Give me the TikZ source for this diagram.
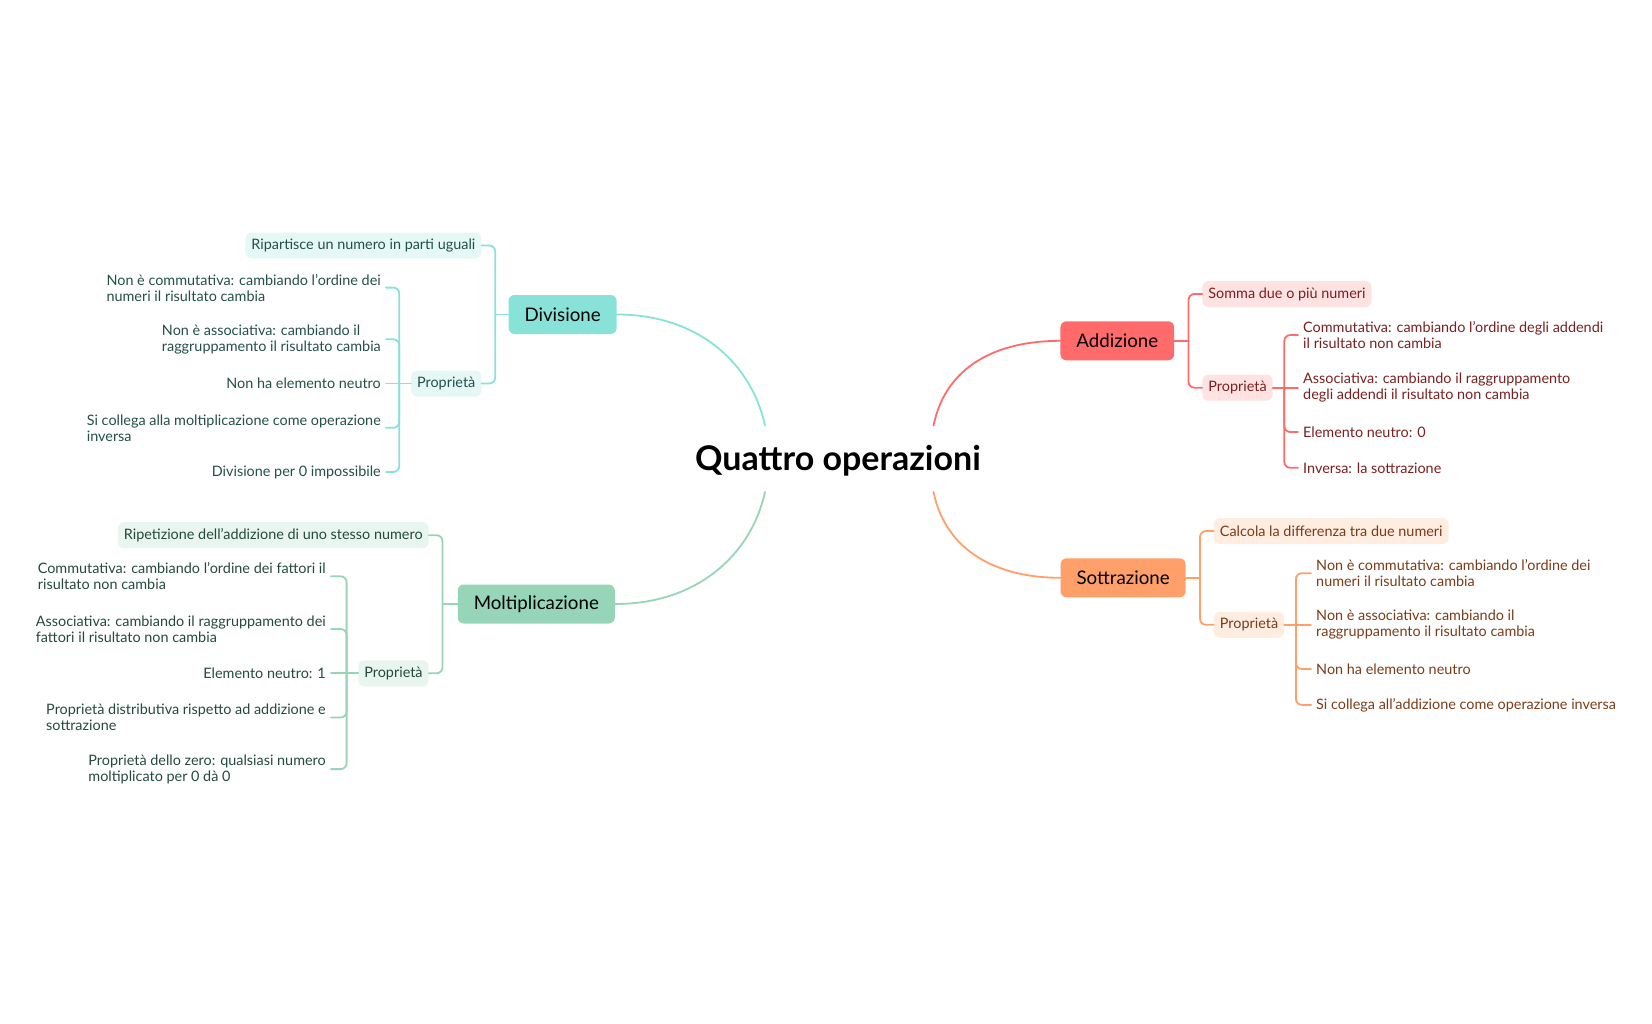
\documentclass[tikz,border=0pt]{standalone}
\usepackage{fontspec}
\setmainfont{Lato}
\usepackage{xcolor}
\definecolor{divc}{HTML}{88E2D8}
\definecolor{divl}{HTML}{E5F8F5}
\definecolor{divt}{HTML}{234F48}
\definecolor{molc}{HTML}{96D5B7}
\definecolor{moll}{HTML}{E8F6EF}
\definecolor{molt}{HTML}{24493A}
\definecolor{addc}{HTML}{FF6B6B}
\definecolor{addl}{HTML}{FFE2E2}
\definecolor{addt}{HTML}{7A1F1F}
\definecolor{sotc}{HTML}{FFA06A}
\definecolor{sotl}{HTML}{FFEDE2}
\definecolor{sott}{HTML}{7A3B17}
\tikzset{
  every picture/.style={line join=round, line cap=round},
  topic/.style={rounded corners=6pt, minimum height=39pt, inner xsep=16pt, font=\fontsize{18.7}{20}\selectfont, text=black},
  sub/.style={rounded corners=6pt, minimum height=26pt, inner xsep=6pt, font=\fontsize{14.4}{16}\selectfont},
  leaf/.style={align=left, inner xsep=5pt, inner ysep=2pt, font=\fontsize{14.4}{16}\selectfont},
  link/.style={line width=1.8pt},
  fork/.style={line width=1.8pt, rounded corners=6pt},
}

\begin{document}
\begin{tikzpicture}[x=1pt,y=-1pt]
\useasboundingbox (0,0) rectangle (1652,1023);
\node[font=\fontsize{34}{36}\selectfont\bfseries] (root) at (838,461) {Quattro operazioni};
\coordinate (rDiv) at (765,425.6);
\coordinate (rAdd) at (933.5,425.6);
\coordinate (rSot) at (933.5,492);
\coordinate (rMol) at (765,492);

\node[topic,fill=divc] (div) at (562.6,314.5) {Divisione};
\node[sub,fill=divl,text=divt,anchor=east] (divA) at (481.5,245.5) {Ripartisce un numero in parti uguali};
\node[sub,fill=divl,text=divt,anchor=east] (divP) at (481.5,383.5) {Proprietà};
\node[leaf,text=divt,anchor=east] (div1) at (386,287.6) {Non è commutativa: cambiando l’ordine dei\\numeri il risultato cambia};
\node[leaf,text=divt,anchor=east] (div2) at (386,339.3) {Non è associativa: cambiando il\\raggruppamento il risultato cambia};
\node[leaf,text=divt,anchor=east] (div3) at (386,383.5) {Non ha elemento neutro};
\node[leaf,text=divt,anchor=east] (div4) at (386,427.8) {Si collega alla moltiplicazione come operazione\\inversa};
\node[leaf,text=divt,anchor=east] (div5) at (386,472) {Divisione per 0 impossibile};
\draw[link,divc] (rDiv) .. controls (752,365) and (700,314.5) .. (div.east);
\draw[link,divc] (div.west) -- (495.2,314.5) coordinate (divJ);
\draw[fork,divc] (divA.east) -| (divJ) |- (divP.east);
\coordinate (divK) at (399.3,383.5);
\draw[link,divc] (divP.west) -- (div3.east);
\draw[fork,divc] (div1.east) -| (divK) |- (div5.east);
\draw[fork,divc] (div2.east) -| (divK);
\draw[fork,divc] (div4.east) -| (divK);

\node[topic,fill=molc] (mol) at (536.3,604) {Moltiplicazione};
\node[sub,fill=moll,text=molt,anchor=east] (molA) at (428.8,535.2) {Ripetizione dell’addizione di uno stesso numero};
\node[sub,fill=moll,text=molt,anchor=east] (molP) at (428.8,673.3) {Proprietà};
\node[leaf,text=molt,anchor=east] (mol1) at (331,576.3) {Commutativa: cambiando l’ordine dei fattori il\\risultato non cambia};
\node[leaf,text=molt,anchor=east] (mol2) at (331,629) {Associativa: cambiando il raggruppamento dei\\fattori il risultato non cambia};
\node[leaf,text=molt,anchor=east] (mol3) at (331,673.3) {Elemento neutro: 1};
\node[leaf,text=molt,anchor=east] (mol4) at (331,717.5) {Proprietà distributiva rispetto ad addizione e\\sottrazione};
\node[leaf,text=molt,anchor=east] (mol5) at (331,769.1) {Proprietà dello zero: qualsiasi numero\\moltiplicato per 0 dà 0};
\draw[link,molc] (rMol) .. controls (752,552) and (700,604) .. (mol.east);
\draw[link,molc] (mol.west) -- (442.5,604) coordinate (molJ);
\draw[fork,molc] (molA.east) -| (molJ) |- (molP.east);
\coordinate (molK) at (346.6,673.3);
\draw[link,molc] (molP.west) -- (mol3.east);
\draw[fork,molc] (mol1.east) -| (molK) |- (mol5.east);
\draw[fork,molc] (mol2.east) -| (molK);
\draw[fork,molc] (mol4.east) -| (molK);

\node[topic,fill=addc] (add) at (1117.3,340.8) {Addizione};
\node[sub,fill=addl,text=addt,anchor=west] (addA) at (1202.2,294) {Somma due o più numeri};
\node[sub,fill=addl,text=addt,anchor=west] (addP) at (1202.2,387.7) {Proprietà};
\node[leaf,text=addt,anchor=west] (add1) at (1298,335) {Commutativa: cambiando l’ordine degli addendi\\il risultato non cambia};
\node[leaf,text=addt,anchor=west] (add2) at (1298,387.7) {Associativa: cambiando il raggruppamento\\degli addendi il risultato non cambia};
\node[leaf,text=addt,anchor=west] (add3) at (1298,432) {Elemento neutro: 0};
\node[leaf,text=addt,anchor=west] (add4) at (1298,467.8) {Inversa: la sottrazione};
\draw[link,addc] (rAdd) .. controls (946,365) and (998,340.8) .. (add.west);
\draw[link,addc] (add.east) -- (1188.5,340.8) coordinate (addJ);
\draw[fork,addc] (addA.west) -| (addJ) |- (addP.west);
\coordinate (addK) at (1284.3,387.7);
\draw[link,addc] (addP.east) -- (add2.west);
\draw[fork,addc] (add1.west) -| (addK) |- (add4.west);
\draw[fork,addc] (add3.west) -| (addK);

\node[topic,fill=sotc] (sot) at (1123.1,577.8) {Sottrazione};
\node[sub,fill=sotl,text=sott,anchor=west] (sotA) at (1213.7,531) {Calcola la differenza tra due numeri};
\node[sub,fill=sotl,text=sott,anchor=west] (sotP) at (1213.7,624.8) {Proprietà};
\node[leaf,text=sott,anchor=west] (sot1) at (1311,573.2) {Non è commutativa: cambiando l’ordine dei\\numeri il risultato cambia};
\node[leaf,text=sott,anchor=west] (sot2) at (1311,624.8) {Non è associativa: cambiando il\\raggruppamento il risultato cambia};
\node[leaf,text=sott,anchor=west] (sot3) at (1311,669) {Non ha elemento neutro};
\node[leaf,text=sott,anchor=west] (sot4) at (1311,704.9) {Si collega all’addizione come operazione inversa};
\draw[link,sotc] (rSot) .. controls (946,552) and (998,577.8) .. (sot.west);
\draw[link,sotc] (sot.east) -- (1200,577.8) coordinate (sotJ);
\draw[fork,sotc] (sotA.west) -| (sotJ) |- (sotP.west);
\coordinate (sotK) at (1295.9,624.8);
\draw[link,sotc] (sotP.east) -- (sot2.west);
\draw[fork,sotc] (sot1.west) -| (sotK) |- (sot4.west);
\draw[fork,sotc] (sot3.west) -| (sotK);
\end{tikzpicture}
\end{document}
